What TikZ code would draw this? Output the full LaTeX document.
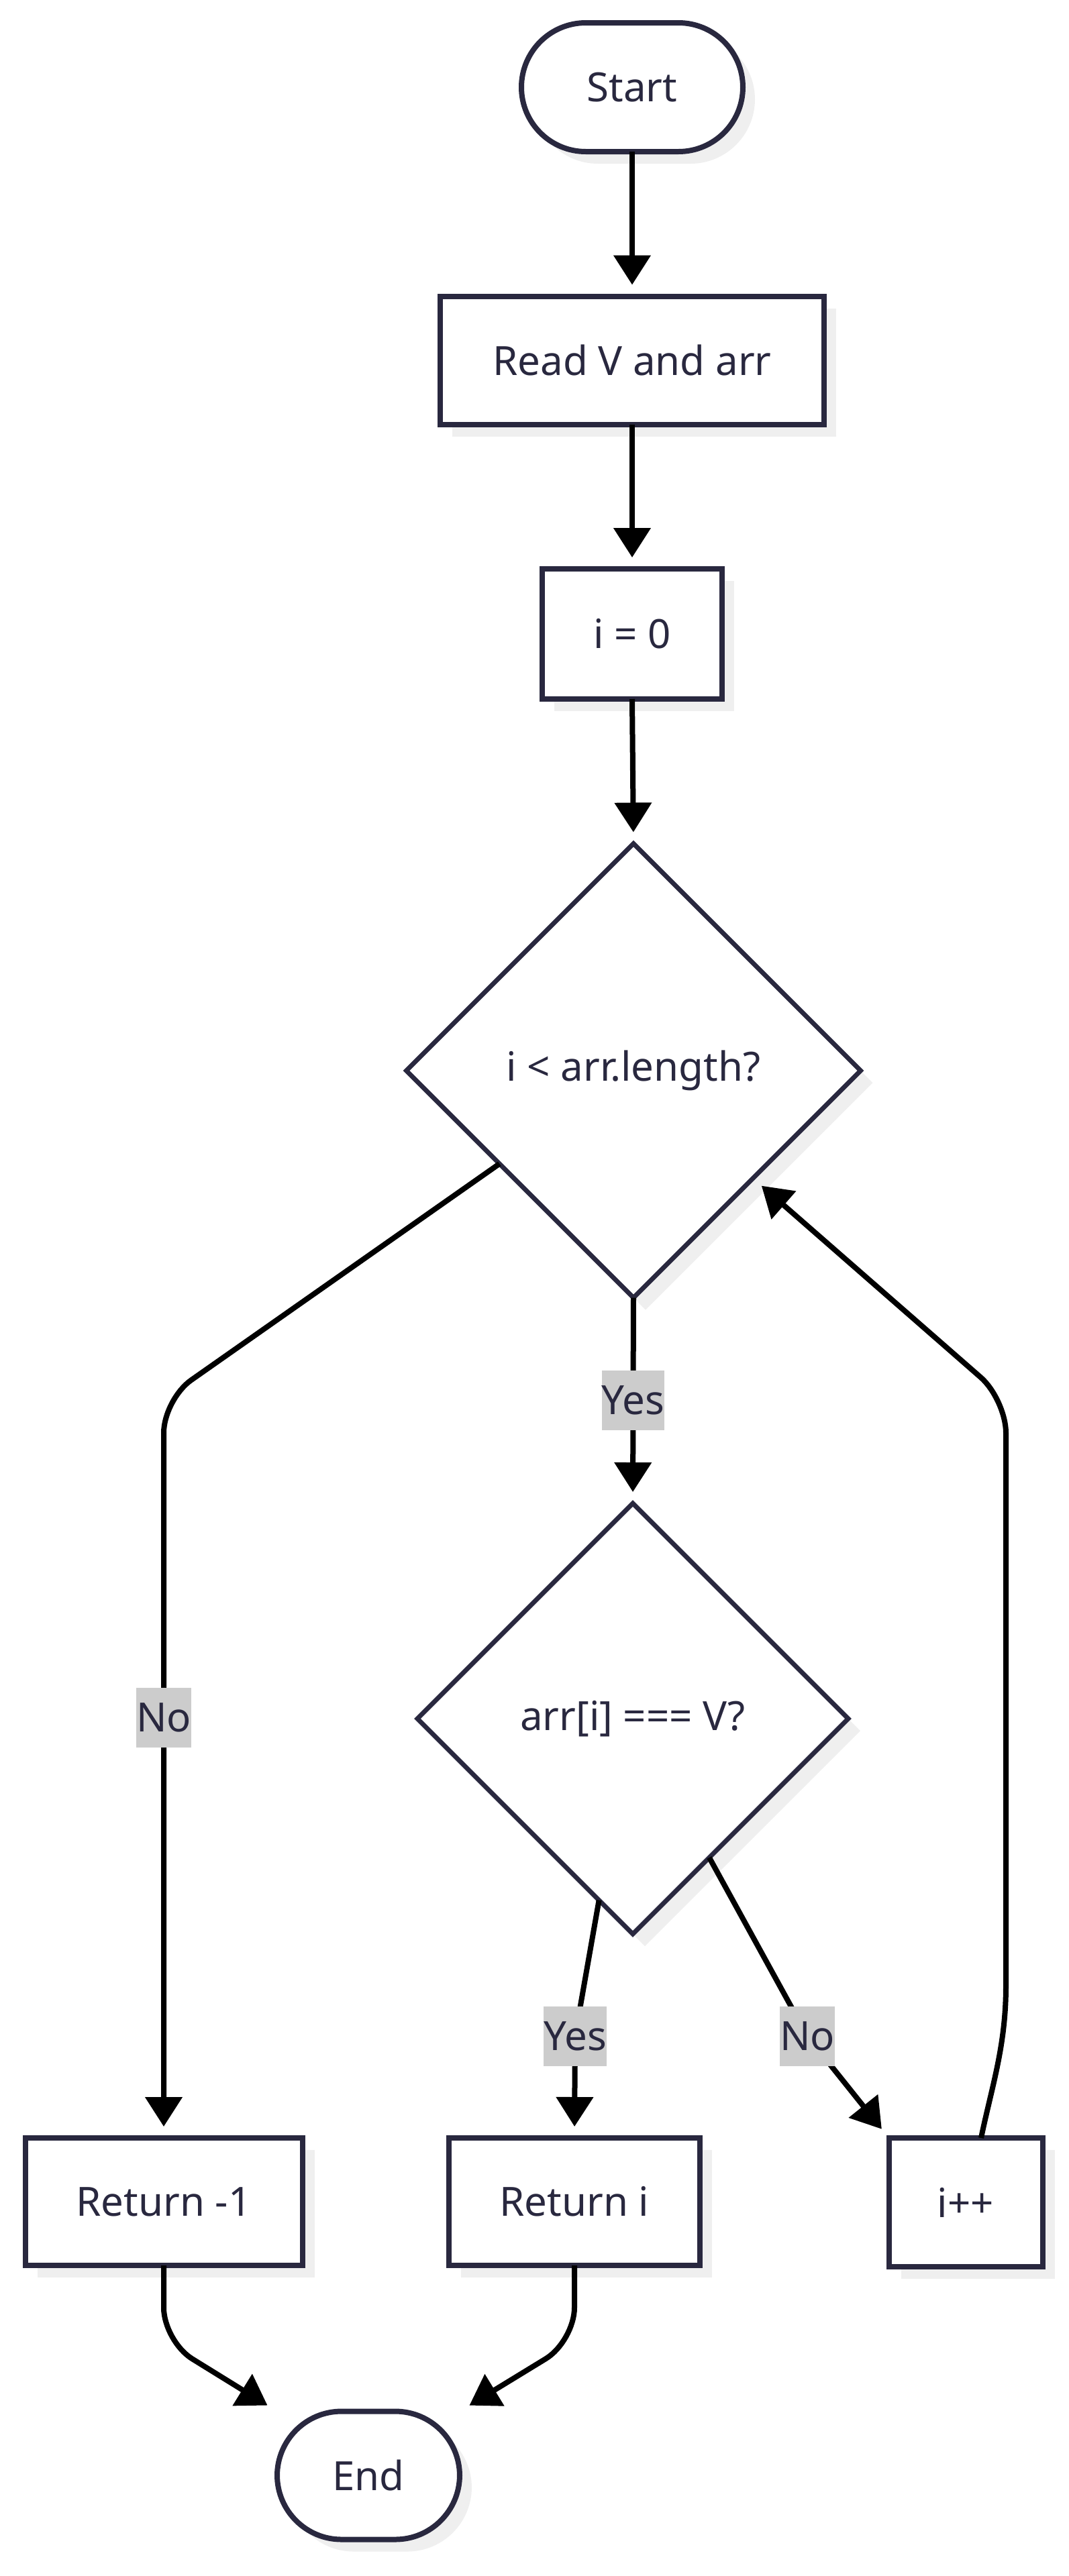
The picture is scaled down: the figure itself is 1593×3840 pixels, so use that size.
\documentclass[tikz,border=0pt]{standalone}
\usepackage{fontspec}
\setmainfont{Noto Sans}
\usetikzlibrary{shapes.geometric,arrows.meta,shadows,calc}
\definecolor{ink}{HTML}{29283F}
\definecolor{shadowc}{HTML}{EFEFEF}
\definecolor{lblbg}{HTML}{CCCCCC}
\begin{document}
\begin{tikzpicture}[x=0.5pt,y=-0.5pt,
  every node/.style={font=\fontsize{30}{36}\selectfont, text=ink, outer sep=0pt},
  base/.style={draw=ink, line width=4pt, fill=white,
    general shadow={fill=shadowc, shadow xshift=9pt, shadow yshift=-9pt}},
  procbox/.style={base, rectangle, inner sep=0pt},
  termbox/.style={base, rectangle, rounded corners=48pt, inner sep=0pt},
  decbox/.style={base, diamond, aspect=1, inner sep=0pt, line width=3.4pt},
  edge/.style={draw=black, line width=4pt, -{Triangle[length=22pt,width=27pt]},
    shorten >=8.5pt, rounded corners=25pt},
  lbl/.style={fill=lblbg, sharp corners, inner xsep=0pt, inner ysep=0pt,
    minimum height=44.5pt, text=ink, draw=none}
]
\useasboundingbox (0,0) rectangle (1593,3840);

\node[termbox, minimum width=165pt, minimum height=96pt] (start) at (942,130) {Start};
\node[procbox, minimum width=286pt, minimum height=95.5pt] (read) at (942,537) {Read V and arr};
\node[procbox, minimum width=134pt, minimum height=97pt] (init) at (942,945) {i = 0};
\node[decbox, minimum width=338.5pt, minimum height=338.5pt] (d1) at (944,1596) {i < arr.length?};
\node[decbox, minimum width=321pt, minimum height=321pt] (d2) at (943,2562) {arr[i] === V?};
\node[procbox, minimum width=206.5pt, minimum height=95pt] (ret1) at (244,3282) {Return -1};
\node[procbox, minimum width=187pt, minimum height=95pt] (reti) at (856,3282) {Return i};
\node[procbox, minimum width=114.5pt, minimum height=96pt] (ipp) at (1439,3283) {i++};
\node[termbox, minimum width=136pt, minimum height=95.5pt] (endn) at (549,3690) {End};

\draw[edge] (start.south) -- (read.north);
\draw[edge] (read.south) -- (init.north);
\draw[edge] (init.south) -- (d1.north);
\draw[edge] (d1.south) -- node[lbl] {Yes} (d2.north);
\draw[edge] ($(d1.west)!0.41!(d1.south)$) -- (244,2086) -- node[lbl, pos=0.431] {No} (ret1.north);
\draw[edge, sharp corners] ([xshift=11.5pt]ipp.north) .. controls (1478,3110) and (1499,3050) .. (1499,2960)
   [rounded corners=25pt] -- (1499,2086) -- ($(d1.east)!0.474!(d1.south)$);
\draw[edge] ($(d2.west)!0.843!(d2.south)$) -- (857,3035) node[lbl] {Yes} -- (reti.north);
\draw[edge] ($(d2.east)!0.645!(d2.south)$) -- (1203,3035) node[lbl] {No} -- (ipp.north west);
\draw[edge] (ret1.south) -- (244,3490) -- (endn.north west);
\draw[edge] (reti.south) -- (856,3490) -- (endn.north east);
\end{tikzpicture}
\end{document}
